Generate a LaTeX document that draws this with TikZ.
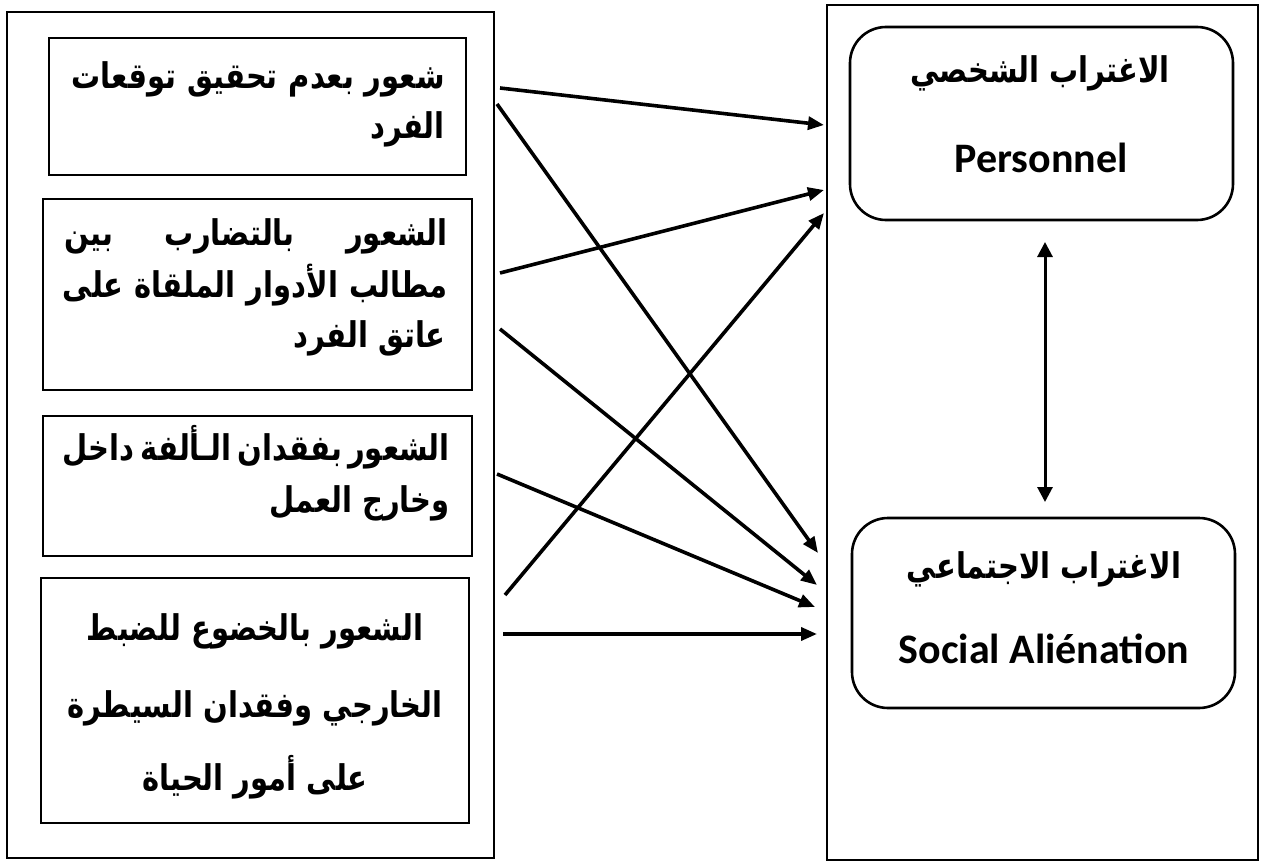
\documentclass[tikz,border=0pt]{standalone}
\usepackage{fontspec}
\usepackage{graphicx}
\usetikzlibrary{arrows.meta}
\TeXXeTstate=1
\newfontfamily\arabicfont[Script=Arabic]{DejaVu Sans}
\newfontfamily\latinfont{Carlito}

% Arabic line, a little taller than the font draws it
\newcommand{\arl}[1]{\scalebox{1}[1.22]{#1}}

\tikzset{
  outerbox/.style={draw, line width=2pt, inner sep=0pt},
  itembox/.style={draw, line width=2.6pt, inner sep=0pt},
  roundbox/.style={draw, line width=2.6pt, rounded corners=36pt, inner sep=0pt},
  link/.style={line width=3.6pt, -{Triangle[length=16pt,width=13pt]}},
  duallink/.style={line width=3pt, {Triangle[length=15pt,width=15pt]}-{Triangle[length=15pt,width=15pt]}},
  arline/.style={font=\arabicfont\bfseries\fontsize{29}{34}\selectfont, inner sep=0pt},
  enline/.style={font=\latinfont\bfseries\fontsize{42}{48}\selectfont, inner sep=0pt},
}

\begin{document}
\begin{tikzpicture}[x=1pt,y=-1pt]
\useasboundingbox (0,0) rectangle (1262,862);

% frames of the two groups
\node[outerbox, minimum width=487pt, minimum height=846pt] (left) at (250.5,435) {};
\node[outerbox, minimum width=431pt, minimum height=855pt] (right) at (1042.5,432.5) {};

% dimensions of alienation (left)
\node[itembox, minimum width=417pt, minimum height=137pt] (b1) at (257.5,106.5) {};
\node[itembox, minimum width=429pt, minimum height=191pt] (b2) at (257.5,294.5) {};
\node[itembox, minimum width=429pt, minimum height=140pt] (b3) at (257.5,486) {};
\node[itembox, minimum width=428pt, minimum height=245pt] (b4) at (255,700.5) {};

\node[arline, anchor=base east] (b1l1) at (445,88) {\arl{\hbox to 373pt{\beginR شعور\hfill بعدم\hfill تحقيق\hfill توقعات\endR}}};
\node[arline, anchor=base east] (b1l2) at (445,138) {\arl{\beginR الفرد\endR}};

\node[arline, anchor=base east] (b2l1) at (448,245) {\arl{\hbox to 383pt{\beginR الشعور\hfill بالتضارب\hfill بين\endR}}};
\node[arline, anchor=base east] (b2l2) at (448,297) {\arl{\hbox to 385pt{\beginR مطالب\hfill الأدوار\hfill الملقاة\hfill على\endR}}};
\node[arline, anchor=base east] (b2l3) at (446,347) {\arl{\beginR عاتق الفرد\endR}};

\node[arline, anchor=base east] (b3l1) at (450,460) {\arl{\hbox to 387pt{\beginR الشعور\hfill بفقدان\hfill الـألفة\hfill داخل\endR}}};
\node[arline, anchor=base east] (b3l2) at (450,512) {\arl{\beginR وخارج العمل\endR}};

\node[arline, anchor=base] (b4l1) at (255,640) {\arl{\beginR الشعور بالخضوع للضبط\endR}};
\node[arline, anchor=base] (b4l2) at (255,717) {\arl{\beginR الخارجي وفقدان السيطرة\endR}};
\node[arline, anchor=base] (b4l3) at (255,790) {\arl{\beginR على أمور الحياة\endR}};

% the two kinds of alienation (right)
\node[roundbox, minimum width=383pt, minimum height=193pt] (r1) at (1041.5,123.5) {};
\node[roundbox, minimum width=383pt, minimum height=190pt] (r2) at (1043.5,613) {};

\node[arline, anchor=base] (r1l1) at (1040,82) {\arl{\beginR الاغتراب الشخصي\endR}};
\node[enline, anchor=base] (r1l2) at (1041,172) {Personnel};
\node[arline, anchor=base] (r2l1) at (1044,578) {\arl{\beginR الاغتراب الاجتماعي\endR}};
\node[enline, anchor=base] (r2l2) at (1044,663) {Social Aliénation};

% arrow ends
\coordinate (s1) at (500,88);   \coordinate (e1) at (824,125);
\coordinate (s2) at (497,104);  \coordinate (e2) at (818,553);
\coordinate (s3) at (500,273);  \coordinate (e3) at (824,190);
\coordinate (s4) at (500,329);  \coordinate (e4) at (817,585);
\coordinate (s5) at (497,474);  \coordinate (e5) at (815,607);
\coordinate (s6) at (505,595);  \coordinate (e6) at (824,213);
\coordinate (s7) at (503,634);  \coordinate (e7) at (817,634);
\coordinate (u) at (1045,242);  \coordinate (d) at (1045,502);

\draw[link] (s1) -- (e1);
\draw[link] (s2) -- (e2);
\draw[link] (s3) -- (e3);
\draw[link] (s4) -- (e4);
\draw[link] (s5) -- (e5);
\draw[link] (s6) -- (e6);
\draw[link] (s7) -- (e7);
\draw[duallink] (u) -- (d);
\end{tikzpicture}
\end{document}
